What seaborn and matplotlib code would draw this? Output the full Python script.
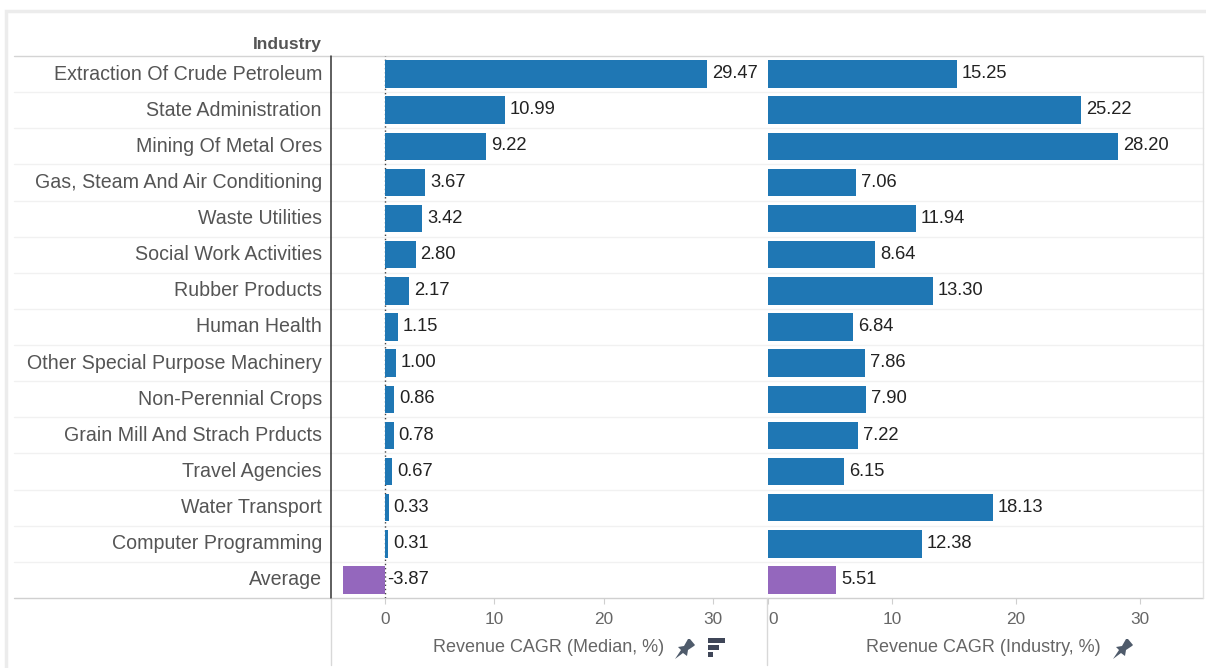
import matplotlib
matplotlib.use("Agg")
import matplotlib.pyplot as plt
import seaborn as sns
import pandas as pd
from matplotlib.lines import Line2D
from matplotlib.patches import Polygon, Rectangle

industries = ["Extraction Of Crude Petroleum", "State Administration", "Mining Of Metal Ores",
              "Gas, Steam And Air Conditioning", "Waste Utilities", "Social Work Activities",
              "Rubber Products", "Human Health", "Other Special Purpose Machinery",
              "Non-Perennial Crops", "Grain Mill And Strach Prducts", "Travel Agencies",
              "Water Transport", "Computer Programming", "Average"]
median_cagr = [29.47, 10.99, 9.22, 3.67, 3.42, 2.80, 2.17, 1.15, 1.00, 0.86, 0.78, 0.67, 0.33, 0.31, -3.87]
industry_cagr = [15.25, 25.22, 28.20, 7.06, 11.94, 8.64, 13.30, 6.84, 7.86, 7.90, 7.22, 6.15, 18.13, 12.38, 5.51]
x_ticks = [0, 10, 20, 30]
kinds = ["Industry"] * 14 + ["Average"]
palette = {"Industry": "#1f77b4", "Average": "#9467bd"}

W, H = 1206, 668
sns.set_theme(style="white")
plt.rcParams["font.family"] = ["Liberation Sans", "DejaVu Sans"]
fig = plt.figure(figsize=(W / 100, H / 100), dpi=100, facecolor="white")

TXT = "#555555"
TOP, BOT = 56, 598

def fx(px):
    return px / W

def fy(py):
    return 1 - py / H

def fline(x0, y0, x1, y1, color, lw=1.0, z=0):
    fig.add_artist(Line2D([fx(x0), fx(x1)], [fy(y0), fy(y1)], color=color, lw=lw, zorder=z))

df = pd.DataFrame({"Industry": industries, "median": median_cagr, "industry": industry_cagr, "kind": kinds})

ax1 = fig.add_axes([fx(331), fy(BOT), fx(767 - 331), fy(TOP) - fy(BOT)])
ax2 = fig.add_axes([fx(767), fy(BOT), fx(1203 - 767), fy(TOP) - fy(BOT)])

specs = [(ax1, "median", (-4.94, 34.95)), (ax2, "industry", (-0.08, 35.08))]
for ax, col, lim in specs:
    ax.patch.set_alpha(0)
    sns.barplot(data=df, x=col, y="Industry", hue="kind", palette=palette, dodge=False,
                legend=False, width=0.76, saturation=1, linewidth=0, ax=ax)
    ax.set_xlim(*lim)
    ax.set_xlabel("")
    ax.set_ylabel("")
    ax.set_xticks(x_ticks)
    ax.tick_params(axis="x", length=4, width=0.8, color="#cfcfcf", labelsize=12.4,
                   labelcolor="#666666", pad=6, bottom=True)
    for s in ax.spines.values():
        s.set_visible(False)
    scale = (lim[1] - lim[0]) / 436
    for i, v in enumerate(df[col]):
        off = 5 if v >= 0 else 2
        ax.text(max(v, 0) + off * scale, i - 0.01, f"{v:.2f}", va="center", ha="left",
                fontsize=13.2, color="#222222")

ax1.axvline(0, color="#444444", lw=1, ls=(0, (1, 2)), zorder=0.5)
ax1.tick_params(axis="y", length=0, labelsize=14.1, labelcolor=TXT, pad=6.5)
ax2.set_yticks([])
ax2.get_xticklabels()[0].set_ha("left")
for lab in ax1.get_yticklabels():
    lab.set_verticalalignment("center")

# row separators, header and footer rules, column rules
row_h = (BOT - TOP) / len(industries)
for i in range(1, len(industries)):
    fline(14, TOP + i * row_h, 1203, TOP + i * row_h, "#f1f1f1")
fline(14, TOP, 1203, TOP, "#d4d4d4")
fline(14, BOT, 1203, BOT, "#d0d0d0")
fline(1203, TOP, 1203, BOT, "#e2e2e2")
fline(331, TOP, 331, BOT, "#333333", 1.1, 3)
fline(331, BOT, 331, 665, "#d8d8d8")
fline(767, BOT, 767, 665, "#d8d8d8")

# outer frame
fig.add_artist(Rectangle((fx(6), fy(690)), fx(1230), fy(11) - fy(690), fill=False,
                         ec="#ececec", lw=2.5, transform=fig.transFigure, zorder=0))

fig.text(fx(322), fy(44), "Industry", ha="right", va="center", fontsize=12.6,
         fontweight="bold", color="#555555")
fig.text(fx(433), fy(648), "Revenue CAGR (Median, %)", ha="left", va="center",
         fontsize=13, color="#666666")
fig.text(fx(866), fy(648), "Revenue CAGR (Industry, %)", ha="left", va="center",
         fontsize=13, color="#666666")

ICON = "#4f5b6b"
pin = [(-10, 10), (-4, 1), (-7, -2), (-1, -3), (3, -10), (5, -10), (10, -4), (9, -3), (3, 1), (2, 7), (-2, 4)]
for cx, cy in [(685, 649), (1123, 649)]:
    fig.add_artist(Polygon([(fx(cx + a), fy(cy + b)) for a, b in pin], closed=True, fc=ICON, ec="none",
                           transform=fig.transFigure, zorder=6))
for y0, w in [(638, 17), (645, 11), (652, 5)]:
    fig.add_artist(Rectangle((fx(708), fy(y0 + 5)), fx(w), fy(y0) - fy(y0 + 5), fc="#3f4658", ec="none",
                             transform=fig.transFigure, zorder=6))

fig.savefig("out.png", dpi=100)
